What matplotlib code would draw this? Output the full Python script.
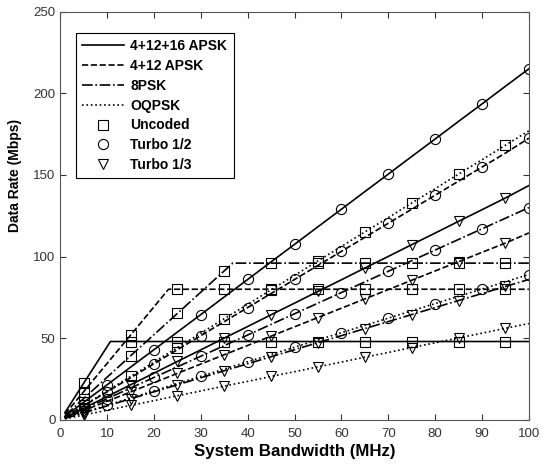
import numpy as np
import matplotlib
matplotlib.use("Agg")
import matplotlib.pyplot as plt
from matplotlib.lines import Line2D

plt.rcParams['font.family'] = ['Liberation Sans', 'DejaVu Sans']

# bandwidth grid for coded curves (MHz)
bw = [1, 5, 10, 15, 20, 25, 30, 35, 40, 45, 50, 55, 60, 65, 70, 75, 80, 85, 90, 95, 100]

# Turbo 1/2 data rates (Mbps)
apsk32_t12 = [2.2, 10.8, 21.5, 32.3, 43, 53.8, 64.5, 75.3, 86, 96.8, 107.5, 118.3, 129, 139.8, 150.5, 161.3, 172, 182.8, 193.5, 204.3, 215]
apsk16_t12 = [1.7, 8.6, 17.2, 25.8, 34.4, 43, 51.6, 60.2, 68.8, 77.4, 86, 94.6, 103.2, 111.8, 120.4, 129, 137.6, 146.2, 154.8, 163.4, 172.5]
psk8_t12 = [1.3, 6.5, 13, 19.5, 26, 32.5, 39, 45.5, 52, 58.5, 65, 71.5, 78, 84.5, 91, 97.5, 104, 110.5, 117, 123.5, 130]
oqpsk_t12 = [0.9, 4.5, 8.9, 13.4, 17.8, 22.3, 26.7, 31.2, 35.6, 40.1, 44.5, 49, 53.4, 57.9, 62.3, 66.8, 71.2, 75.7, 80.1, 84.6, 89]

# Turbo 1/3 data rates (Mbps)
apsk32_t13 = [1.4, 7.2, 14.3, 21.5, 28.6, 35.8, 42.9, 50.1, 57.2, 64.4, 71.5, 78.7, 85.8, 93, 100.1, 107.3, 114.4, 121.6, 128.7, 135.9, 143.5]
apsk16_t13 = [1.1, 5.7, 11.4, 17.1, 22.8, 28.5, 34.2, 39.9, 45.6, 51.3, 57, 62.7, 68.4, 74.1, 79.8, 85.5, 91.2, 96.9, 102.6, 108.3, 114.5]
psk8_t13 = [0.9, 4.3, 8.6, 12.9, 17.2, 21.5, 25.8, 30.1, 34.4, 38.7, 43, 47.3, 51.6, 55.9, 60.2, 64.5, 68.8, 73.1, 77.4, 81.7, 86]
oqpsk_t13 = [0.6, 3, 5.9, 8.9, 11.8, 14.8, 17.7, 20.7, 23.6, 26.6, 29.5, 32.5, 35.4, 38.4, 41.3, 44.3, 47.2, 50.2, 53.1, 56.1, 59]

# Uncoded curves (saturate at the max rate)
bw_apsk32_unc = [1, 5, 10.7, 15, 25, 35, 45, 55, 65, 75, 85, 95, 100]
apsk32_unc = [4.5, 22.5, 48, 48, 48, 48, 48, 48, 48, 48, 48, 48, 48]
bw_apsk16_unc = [1, 5, 15, 23.1, 25, 35, 45, 55, 65, 75, 85, 95, 100]
apsk16_unc = [3.5, 17.3, 51.9, 80, 80, 80, 80, 80, 80, 80, 80, 80, 80]
bw_psk8_unc = [1, 5, 15, 25, 35, 36.8, 45, 55, 65, 75, 85, 95, 100]
psk8_unc = [2.6, 13.1, 39.2, 65.2, 91.3, 96, 96, 96, 96, 96, 96, 96, 96]
oqpsk_unc = [1.8, 8.9, 17.7, 26.6, 35.4, 44.3, 53.1, 62, 70.8, 79.7, 88.5, 97.4, 106.2, 115.1, 123.9, 132.8, 141.6, 150.5, 159.3, 168.2, 177]

unc_marks = [5, 15, 25, 35, 45, 55, 65, 75, 85, 95]
t12_marks = [10, 20, 30, 40, 50, 60, 70, 80, 90, 100]
t13_marks = [5, 15, 25, 35, 45, 55, 65, 75, 85, 95]


def idx(x, marks):
    return list(np.where(np.isin(x, marks))[0])


fig = plt.figure(figsize=(5.43, 4.65), dpi=100)
ax = fig.add_axes([0.111, 0.097, 0.863, 0.878])

lw = 1.2
ms = 7.3
kw = dict(color='k', lw=lw, mfc='none', mec='k', ms=ms, mew=0.8)

ax.plot(bw_apsk32_unc, apsk32_unc, ls='-', marker='s', markevery=idx(bw_apsk32_unc, unc_marks), **kw)
ax.plot(bw_apsk16_unc, apsk16_unc, ls='--', marker='s', markevery=idx(bw_apsk16_unc, unc_marks), **kw)
ax.plot(bw_psk8_unc, psk8_unc, ls='-.', marker='s', markevery=idx(bw_psk8_unc, unc_marks), **kw)
ax.plot(bw, oqpsk_unc, ls=':', marker='s', markevery=idx(bw, unc_marks), **kw)

ax.plot(bw, apsk32_t12, ls='-', marker='o', markevery=idx(bw, t12_marks), **kw)
ax.plot(bw, apsk16_t12, ls='--', marker='o', markevery=idx(bw, t12_marks), **kw)
ax.plot(bw, psk8_t12, ls='-.', marker='o', markevery=idx(bw, t12_marks), **kw)
ax.plot(bw, oqpsk_t12, ls=':', marker='o', markevery=idx(bw, t12_marks), **kw)

ax.plot(bw, apsk32_t13, ls='-', marker='v', markevery=idx(bw, t13_marks), **kw)
ax.plot(bw, apsk16_t13, ls='--', marker='v', markevery=idx(bw, t13_marks), **kw)
ax.plot(bw, psk8_t13, ls='-.', marker='v', markevery=idx(bw, t13_marks), **kw)
ax.plot(bw, oqpsk_t13, ls=':', marker='v', markevery=idx(bw, t13_marks), **kw)

ax.set_xlim(0, 100)
ax.set_ylim(0, 250)
ax.set_xticks(range(0, 101, 10))
ax.set_yticks(range(0, 251, 50))
ax.tick_params(direction='in', top=True, right=True, labelsize=9.5, colors='#333333', length=4)
ax.tick_params(axis='x', pad=6)
for s in ax.spines.values():
    s.set_color('#555555')
ax.set_xlabel('System Bandwidth (MHz)', fontsize=12.2, fontweight='bold', labelpad=3)
ax.set_ylabel('Data Rate (Mbps)', fontsize=10, fontweight='bold')
ax.yaxis.set_label_coords(-0.082, 0.598)

handles = [
    Line2D([], [], color='k', ls='-', lw=lw),
    Line2D([], [], color='k', ls='--', lw=lw),
    Line2D([], [], color='k', ls='-.', lw=lw),
    Line2D([], [], color='k', ls=':', lw=lw),
    Line2D([], [], ls='none', marker='s', mfc='none', mec='k', ms=ms, mew=0.8),
    Line2D([], [], ls='none', marker='o', mfc='none', mec='k', ms=ms, mew=0.8),
    Line2D([], [], ls='none', marker='v', mfc='none', mec='k', ms=ms, mew=0.8),
]
labels = ['4+12+16 APSK', '4+12 APSK', '8PSK', 'OQPSK', 'Uncoded', 'Turbo 1/2', 'Turbo 1/3']
leg = ax.legend(handles, labels, loc='upper left', bbox_to_anchor=(0.034, 0.948),
                prop={'weight': 'bold', 'size': 10}, handlelength=3.0, handletextpad=0.45,
                labelspacing=0.42, borderpad=0.45, fancybox=False, framealpha=1,
                edgecolor='k', borderaxespad=0)
leg.get_frame().set_linewidth(0.8)

fig.savefig('out.png', dpi=100)
